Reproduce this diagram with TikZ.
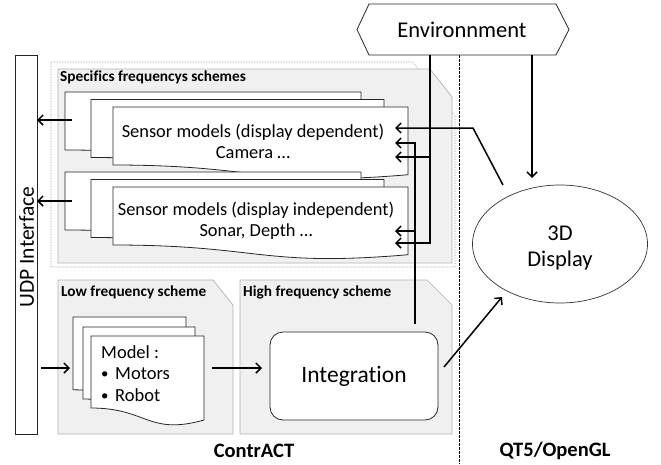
\documentclass[tikz,border=0pt]{standalone}
\usepackage{fontspec}
\setmainfont{Carlito}[Ligatures=NoCommon]
\usetikzlibrary{arrows.meta,shapes.geometric}
\begin{document}
\begin{tikzpicture}[x=1pt,y=-1pt,
  outl/.style={draw=black!85, line width=0.8pt},
  docstyle/.style={fill=white, draw=black!85, line width=0.8pt},
  panel/.style={fill=black!6, draw=black!30, line width=0.7pt},
  conn/.style={line width=1.5pt, draw=black, -{Straight Barb[length=5pt,width=10pt]}},
  wire/.style={line width=1.5pt, draw=black},
  ptitle/.style={font=\fontsize{15.3}{17}\selectfont\bfseries, anchor=base west, inner sep=0pt},
  pics/docshape/.style n args={2}{code={
    \draw[docstyle] (0,0) -- (#1,0) -- (#1,0.934*#2)
      .. controls (0.5*#1,1.107*#2) and (0.5*#1,0.8*#2) .. (0,0.8*#2) -- cycle;}}
]
\useasboundingbox (0,0) rectangle (661,464);

% separator
\draw[black, line width=0.6pt, dash pattern=on 2.5pt off 1.5pt] (459,55) -- (459,464);

% UDP interface
\node[outl, fill=white, minimum width=22pt, minimum height=379pt, inner sep=0pt] (udp) at (26,244.5) {};
\node[rotate=90, font=\fontsize{21.5}{24}\selectfont] (udpt) at (26.5,247) {UDP Interface};

% specifics panel
\draw[draw=black!45, line width=0.6pt, densely dotted, fill=white] (51,62) -- (413,62) -- (455,116) -- (455,267) -- (51,267) -- cycle;
\draw[panel] (58,69) -- (430,69) -- (452,97) -- (452,263) -- (58,263) -- cycle;
\node[ptitle] (spt) at (60,81) {Specifics frequencys schemes};

% sensor stack 1
\pic at (65,92) {docshape={296}{72.5}};
\pic at (91,99.5) {docshape={293}{72.5}};
\pic at (113,107) {docshape={295}{72.5}};
\node[align=center, font=\fontsize{18.4}{21}\selectfont] (s1) at (253,141) {Sensor models (display dependent)\\Camera …};

% sensor stack 2
\pic at (65,172) {docshape={296}{72.5}};
\pic at (91,179.5) {docshape={293}{72.5}};
\pic at (113,187) {docshape={295}{72.5}};
\node[align=center, font=\fontsize{18.4}{21}\selectfont] (s2) at (256,221) {Sensor models (display independent)\\Sonar, Depth …};

% low / high panels
\draw[panel] (58,280) -- (213,280) -- (233,305) -- (233,434) -- (58,434) -- cycle;
\node[ptitle] (lft) at (61,296) {Low frequency scheme};
\draw[panel] (240,280) -- (427,280) -- (452,305) -- (452,434) -- (240,434) -- cycle;
\node[ptitle] (hft) at (243,296) {High frequency scheme};

% model docs
\pic at (73,317) {docshape={113}{91}};
\pic at (83,327) {docshape={112}{90}};
\pic at (91,336) {docshape={113}{90}};
\node[align=left, anchor=north west, inner sep=0pt, font=\fontsize{18.5}{21.5}\selectfont] (model) at (101,345) {Model :\\\makebox[14pt][l]{\raisebox{1pt}{\scalebox{0.8}{•}}}Motors\\\makebox[14pt][l]{\raisebox{1pt}{\scalebox{0.8}{•}}}Robot};

% integration
\node[outl, fill=white, rounded corners=13pt, minimum width=168pt, minimum height=88pt, font=\fontsize{23.5}{25}\selectfont] (integ) at (354,376) {Integration};

% environment
\draw[outl, fill=white] (357,29.5) -- (369,4) -- (556,4) -- (569,29.5) -- (556,55) -- (369,55) -- cycle;
\node[font=\fontsize{22.5}{24}\selectfont] (env) at (462,29.5) {Environnment};

% display
\node[ellipse, draw=black!80, line width=0.7pt, fill=white, minimum width=175pt, minimum height=118pt] (disp) at (560,244) {};
\node[align=center, font=\fontsize{22.5}{26}\selectfont] (dispt) at (560,248) {3D\\Display};

% labels
\node[font=\fontsize{20.5}{22}\selectfont\bfseries] (contr) at (254,451) {ContrACT};
\node[font=\fontsize{20.5}{22}\selectfont\bfseries] (qt) at (555,451) {QT5/OpenGL};

% coordinates
\coordinate (eA) at (532,55);
\coordinate (dA) at (532,178);
\coordinate (dB) at (503,185);
\coordinate (bend) at (473,128);
\coordinate (t1) at (395,128);
\coordinate (eV) at (430,55);
\coordinate (eV1) at (430,157);
\coordinate (eV2) at (430,243);
\coordinate (t3) at (395,157);
\coordinate (t6) at (395,243);
\coordinate (iV) at (415,324);
\coordinate (iV1) at (415,143);
\coordinate (iV2) at (415,231);
\coordinate (t2) at (395,143);
\coordinate (t5) at (395,231);
\coordinate (u1s) at (72,120);
\coordinate (u1e) at (37,120);
\coordinate (u2s) at (72,201);
\coordinate (u2e) at (37,201);
\coordinate (m1s) at (41,368);
\coordinate (m1e) at (70,368);
\coordinate (m2s) at (212,368);
\coordinate (m2e) at (262,368);
\coordinate (dS) at (444,367);
\coordinate (dE) at (502,297);

% connectors
\draw[conn] (eA) -- (dA);
\draw[conn] (dB) -- (bend) -- (t1);
\draw[wire] (eV) -- (eV1);
\draw[conn] (eV1) -- (t3);
\draw[conn] (eV1) -- (eV2) -- (t6);
\draw[wire] (iV) -- (iV2);
\draw[conn] (iV2) -- (t5);
\draw[conn] (iV2) -- (iV1) -- (t2);
\draw[conn] (u1s) -- (u1e);
\draw[conn] (u2s) -- (u2e);
\draw[conn] (m1s) -- (m1e);
\draw[conn] (m2s) -- (m2e);
\draw[conn] (dS) -- (dE);
\end{tikzpicture}
\end{document}
